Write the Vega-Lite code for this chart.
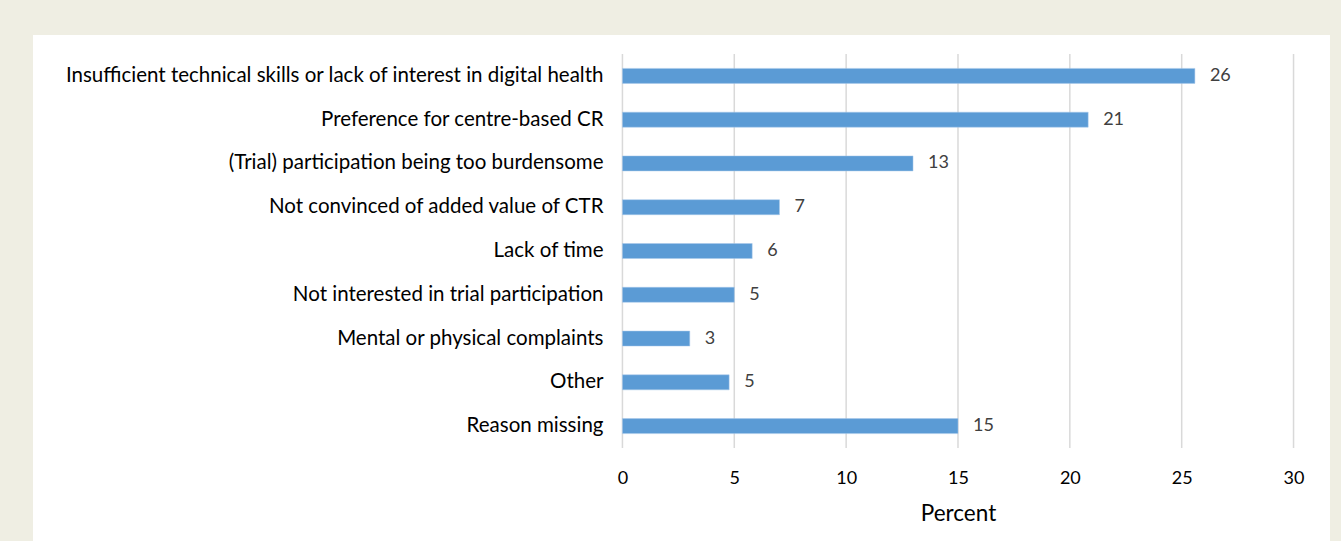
{
  "$schema": "https://vega.github.io/schema/vega-lite/v6.json",
  "width": 1297,
  "height": 506,
  "autosize": {"type": "none"},
  "padding": {"left": 33, "top": 35, "right": 11, "bottom": 0},
  "background": "#efeee3",
  "config": {
    "view": {"fill": "white", "stroke": null},
    "font": "Lato"
  },
  "datasets": {
    "reasons": [
      {"reason": "Insufficient technical skills or lack of interest in digital health\u00a0", "percent": 25.59, "label": "26"},
      {"reason": "Preference for centre-based CR", "percent": 20.82, "label": "21"},
      {"reason": "(Trial) participation being too burdensome", "percent": 12.99, "label": "13"},
      {"reason": "Not convinced of added value of CTR", "percent": 7.02, "label": "7"},
      {"reason": "Lack of time", "percent": 5.8, "label": "6"},
      {"reason": "Not interested in trial participation", "percent": 5.0, "label": "5"},
      {"reason": "Mental or physical complaints", "percent": 3.01, "label": "3"},
      {"reason": "Other", "percent": 4.77, "label": "5"},
      {"reason": "Reason missing", "percent": 15.0, "label": "15"}
    ],
    "grid": [
      {"g": 0}, {"g": 5}, {"g": 10}, {"g": 15}, {"g": 20}, {"g": 25}, {"g": 30}
    ]
  },
  "layer": [
    {
      "data": {"name": "grid"},
      "mark": {"type": "rule", "color": "#d9d9d9", "strokeWidth": 1.5},
      "encoding": {
        "x": {"field": "g", "type": "quantitative"},
        "y": {"datum": "Insufficient technical skills or lack of interest in digital health\u00a0", "type": "nominal", "bandPosition": -0.958},
        "y2": {"datum": "Reason missing", "bandPosition": 1.958}
      }
    },
    {
      "data": {"name": "reasons"},
      "mark": {"type": "bar", "color": "#5b9bd5", "stroke": "#a9c8ea", "strokeWidth": 0.5},
      "encoding": {
        "x": {"field": "percent", "type": "quantitative"},
        "y": {"field": "reason", "type": "nominal", "sort": null}
      }
    },
    {
      "data": {"name": "reasons"},
      "mark": {"type": "text", "align": "left", "baseline": "middle", "dx": 15, "fontSize": 18, "color": "#404040"},
      "encoding": {
        "x": {"field": "percent", "type": "quantitative"},
        "y": {"field": "reason", "type": "nominal", "sort": null},
        "text": {"field": "label"}
      }
    }
  ],
  "encoding": {
    "y": {
      "field": "reason",
      "type": "nominal",
      "sort": null,
      "scale": {
        "domain": [
          "Insufficient technical skills or lack of interest in digital health\u00a0",
          "Preference for centre-based CR",
          "(Trial) participation being too burdensome",
          "Not convinced of added value of CTR",
          "Lack of time",
          "Not interested in trial participation",
          "Mental or physical complaints",
          "Other",
          "Reason missing"
        ],
        "range": [19, 413],
        "paddingInner": 0.657,
        "paddingOuter": 0.3285
      },
      "axis": {
        "title": null,
        "orient": "left",
        "offset": -570,
        "domain": false,
        "ticks": false,
        "tickSize": 0,
        "grid": false,
        "labelPadding": 0,
        "labelFontSize": 20.5,
        "labelColor": "#000000",
        "labelLimit": 800
      }
    },
    "x": {
      "field": "percent",
      "type": "quantitative",
      "scale": {"domain": [-26.35, 31.63], "nice": false, "zero": false},
      "axis": {
        "orient": "bottom",
        "offset": -93,
        "values": [0, 5, 10, 15, 20, 25, 30],
        "domain": false,
        "ticks": false,
        "tickSize": 0,
        "grid": false,
        "labelFontSize": 18,
        "labelColor": "#000000",
        "labelBaseline": "middle",
        "labelPadding": 30,
        "title": "Percent",
        "titleFontSize": 22.5,
        "titleFontWeight": "normal",
        "titleColor": "#000000",
        "titleX": 925,
        "titleY": 65,
        "titleAnchor": null,
        "titleAlign": "center",
        "titleBaseline": "middle"
      }
    }
  }
}
